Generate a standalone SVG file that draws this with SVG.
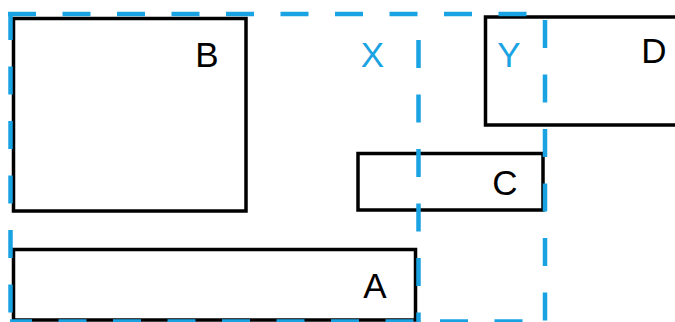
<svg xmlns="http://www.w3.org/2000/svg" width="675" height="322" viewBox="0 0 675 322">
<style>
.box{fill:#fff;stroke:#000;stroke-width:3.5}
.dash{fill:none;stroke:#1AA3E3;stroke-width:4.5;stroke-dasharray:28 26.5}
.lbl{font-family:"Liberation Sans",Arial,sans-serif;font-size:35px;text-anchor:middle}
.blk{fill:#000}
.blu{fill:#1AA3E3}
</style>
<rect width="675" height="322" fill="#fff"/>
<g id="B"><rect class="box" x="13.5" y="18.5" width="232.5" height="192.5"/><text class="lbl blk" x="207" y="67">B</text></g>
<g id="D"><rect class="box" x="485.5" y="17" width="200" height="108"/><text class="lbl blk" x="654" y="63">D</text></g>
<g id="C"><rect class="box" x="358" y="153.5" width="185" height="56.5"/><text class="lbl blk" x="505" y="195">C</text></g>
<g id="A"><rect class="box" x="13.5" y="249.5" width="402" height="70.5"/><text class="lbl blk" x="375" y="298">A</text></g>
<g id="regions">
<line class="dash" x1="8" y1="14" x2="545" y2="14"/>
<line class="dash" x1="10.5" y1="12" x2="10.5" y2="322"/>
<line class="dash" x1="10" y1="321.5" x2="545" y2="321.5" stroke-dashoffset="6"/>
<g id="X"><line class="dash" x1="418.5" y1="40" x2="418.5" y2="322"/><text class="lbl blu" x="372.5" y="67">X</text></g>
<g id="Y"><line class="dash" x1="545" y1="20" x2="545" y2="322"/><text class="lbl blu" x="509" y="67">Y</text></g>
</g>
<g id="connectors"/>
</svg>
